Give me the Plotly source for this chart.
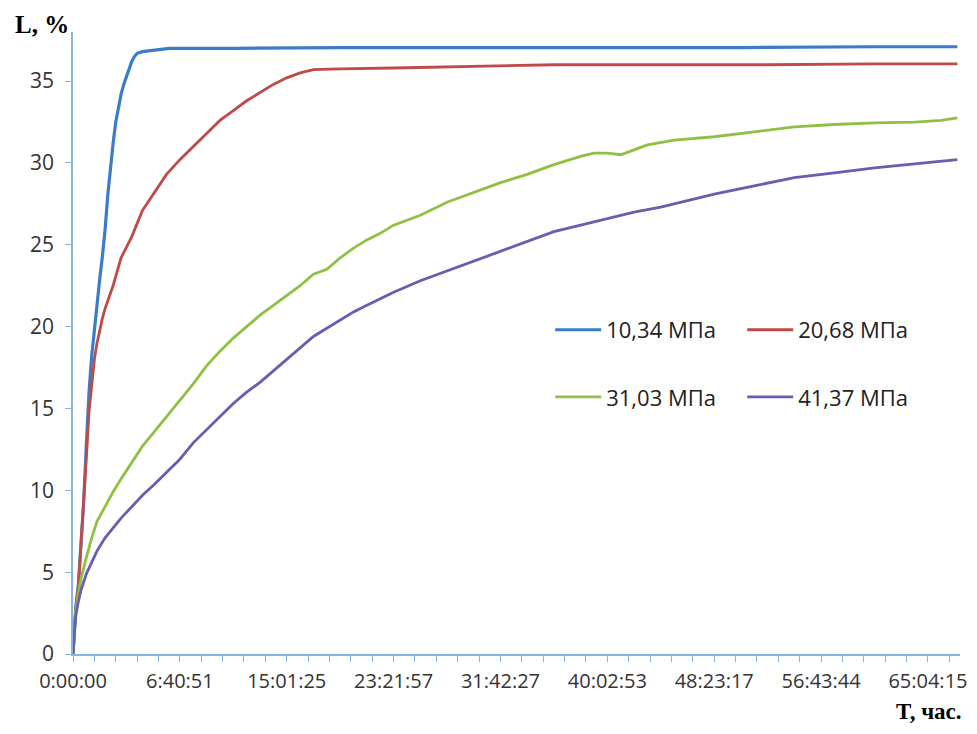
import plotly.graph_objects as go

# x = measurement sample number (Excel category axis), y = L, %
time_labels = ["0:00:00", "6:40:51", "15:01:25", "23:21:57", "31:42:27",
               "40:02:53", "48:23:17", "56:43:44", "65:04:15"]
samples_per_label = 40
samples_per_minor = 8

blue_x = [0, 1, 2, 3, 4, 5, 6, 7, 8, 9, 10, 11, 12, 13, 14, 15, 16, 17, 18, 19, 20,
          21, 22, 23, 24, 26, 30, 36, 60, 100, 150, 200, 250, 300, 331]
blue_y = [0, 2.8, 4.2, 6.8, 9.3, 12.8, 16.0, 18.2, 19.9, 21.4, 22.9, 24.3, 25.9, 28.0,
          29.8, 31.2, 32.5, 33.4, 34.2, 34.8, 35.3, 35.8, 36.2, 36.5, 36.7, 36.8, 36.9,
          37.0, 37.0, 37.05, 37.05, 37.05, 37.05, 37.1, 37.1]

red_x = [0, 1, 2, 3, 4, 5, 6, 7, 8, 9, 10, 11, 12, 13, 15, 18, 22, 26, 30, 35, 40, 45,
         50, 55, 60, 65, 70, 75, 80, 85, 90, 100, 120, 150, 180, 220, 260, 300, 331]
red_y = [0, 2.7, 4.1, 6.6, 9.0, 12.0, 14.8, 16.6, 18.0, 19.0, 19.8, 20.5, 21.1, 21.6,
         22.5, 24.2, 25.5, 27.1, 28.1, 29.3, 30.2, 31.0, 31.8, 32.6, 33.2, 33.8, 34.3,
         34.8, 35.2, 35.5, 35.7, 35.75, 35.8, 35.9, 36.0, 36.0, 36.0, 36.05, 36.05]

green_x = [0, 1, 2, 3, 5, 7, 9, 12, 15, 18, 22, 26, 30, 35, 40, 45, 50, 55, 60, 65, 70,
           75, 80, 85, 90, 95, 100, 105, 110, 115, 120, 130, 140, 150, 160, 170, 180,
           190, 195, 200, 205, 210, 215, 225, 240, 255, 270, 285, 300, 315, 325, 331]
green_y = [0, 2.6, 3.7, 4.6, 5.9, 7.1, 8.1, 9.0, 9.9, 10.7, 11.7, 12.7, 13.5, 14.5,
           15.5, 16.5, 17.6, 18.5, 19.3, 20.0, 20.7, 21.3, 21.9, 22.5, 23.2, 23.5, 24.2,
           24.8, 25.3, 25.7, 26.2, 26.8, 27.6, 28.2, 28.8, 29.3, 29.9, 30.4, 30.6, 30.6,
           30.5, 30.8, 31.1, 31.4, 31.6, 31.9, 32.2, 32.35, 32.45, 32.5, 32.6, 32.75]

purple_x = [0, 1, 2, 3, 5, 7, 9, 12, 15, 18, 22, 26, 30, 35, 40, 45, 50, 55, 60, 65, 70,
            75, 80, 85, 90, 95, 100, 105, 110, 115, 120, 130, 140, 150, 160, 170, 180,
            190, 200, 210, 220, 230, 240, 255, 270, 285, 300, 315, 325, 331]
purple_y = [0, 2.3, 3.2, 3.9, 4.9, 5.6, 6.3, 7.1, 7.7, 8.3, 9.0, 9.7, 10.3, 11.1, 11.9,
            12.9, 13.7, 14.5, 15.3, 16.0, 16.6, 17.3, 18.0, 18.7, 19.4, 19.9, 20.4, 20.9,
            21.3, 21.7, 22.1, 22.8, 23.4, 24.0, 24.6, 25.2, 25.8, 26.2, 26.6, 27.0, 27.3,
            27.7, 28.1, 28.6, 29.1, 29.4, 29.7, 29.95, 30.1, 30.2]

series = [
    ("10,34 МПа", blue_x, blue_y, "#3a7cc8", 3.2, "legend"),
    ("20,68 МПа", red_x, red_y, "#be4b48", 2.8, "legend"),
    ("31,03 МПа", green_x, green_y, "#8fc043", 2.8, "legend2"),
    ("41,37 МПа", purple_x, purple_y, "#6a5cae", 2.8, "legend2"),
]

fig = go.Figure()
for name, xs, ys, color, w, lg in series:
    fig.add_trace(go.Scatter(x=xs, y=ys, mode="lines", name=name,
                             line=dict(color=color, width=w), legend=lg))

axis_color = "#86b4dc"
xtick_font = dict(family="Open Sans, Liberation Sans, sans-serif", size=20, color="#333333")
ytick_font = dict(family="Open Sans, Liberation Sans, sans-serif", size=21, color="#333333")
legend_font = dict(family="Open Sans, Liberation Sans, sans-serif", size=22, color="#222222")

fig.update_layout(
    width=961, height=718,
    margin=dict(l=65, r=9, t=24, b=72),
    paper_bgcolor="white", plot_bgcolor="white",
    showlegend=True,
    legend=dict(orientation="h", x=0.538, y=0.521, xanchor="left", yanchor="middle",
                itemwidth=46, entrywidth=131, font=legend_font, bgcolor="rgba(0,0,0,0)"),
    legend2=dict(orientation="h", x=0.538, y=0.413, xanchor="left", yanchor="middle",
                 itemwidth=46, entrywidth=131, font=legend_font, bgcolor="rgba(0,0,0,0)"),
    xaxis=dict(
        range=[0, 332], showgrid=False, zeroline=False, automargin=False,
        showline=True, linecolor=axis_color, linewidth=1.5,
        tickmode="array",
        tickvals=[i * samples_per_label for i in range(len(time_labels))],
        ticktext=time_labels,
        ticks="outside", ticklen=6, tickcolor=axis_color, tickwidth=1.2,
        ticklabelstandoff=2, ticklabeloverflow="allow",
        tickfont=xtick_font,
        minor=dict(dtick=samples_per_minor, tick0=0, ticks="outside", ticklen=6,
                   tickcolor=axis_color, tickwidth=1.2, showgrid=False),
    ),
    yaxis=dict(
        range=[0, 38], showgrid=False, zeroline=False, automargin=False,
        showline=True, linecolor=axis_color, linewidth=1.5,
        tickmode="linear", tick0=0, dtick=5,
        ticks="outside", ticklen=6, tickcolor=axis_color, tickwidth=1.2,
        ticklabelstandoff=7,
        tickfont=ytick_font,
    ),
    annotations=[
        dict(text="<b>L, %</b>", xref="paper", yref="paper", x=0, y=1.0,
             xanchor="right", yanchor="middle", xshift=-2, yshift=8, showarrow=False,
             font=dict(family="Liberation Serif, Times New Roman, serif", size=25, color="black")),
        dict(text="<b>T, час.</b>", xref="paper", yref="paper", x=1.0, y=0,
             xanchor="right", yanchor="middle", xshift=4, yshift=-57, showarrow=False,
             font=dict(family="Liberation Serif, Times New Roman, serif", size=23, color="black")),
    ],
)

fig.write_html("out.html")
